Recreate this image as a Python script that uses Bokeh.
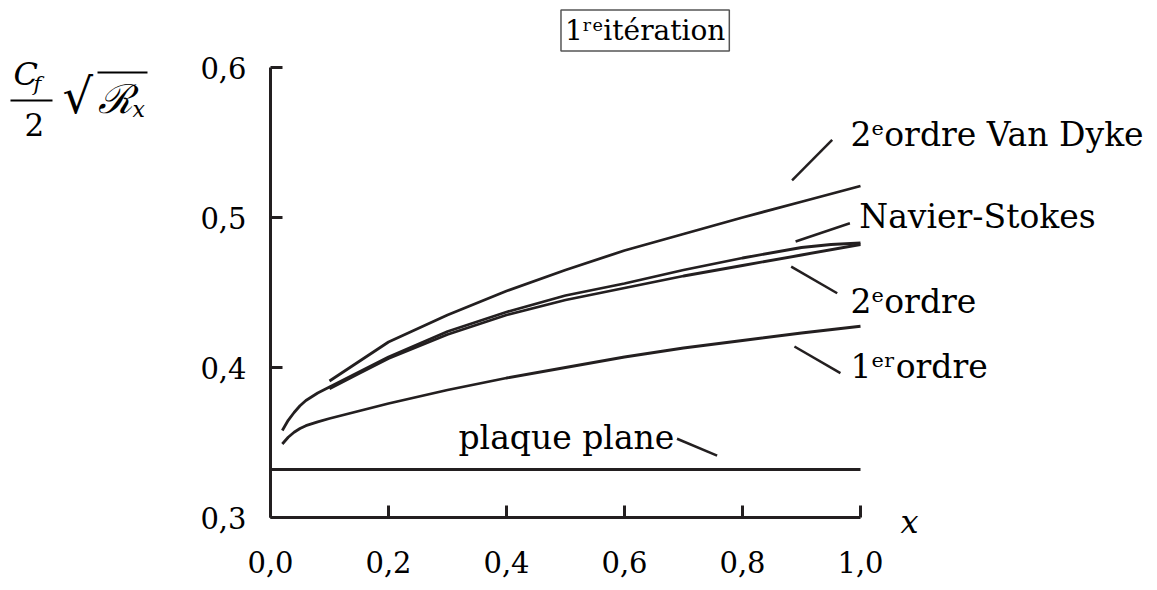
from bokeh.plotting import figure
from bokeh.models import (Range1d, FixedTicker, CustomJSTickFormatter, Label, Arrow)
from bokeh.embed import file_html
from bokeh.resources import INLINE

# ---------------- data ----------------
x_plaque = [0.0, 1.0]
y_plaque = [0.332, 0.332]

x_ordre1 = [0.02, 0.03, 0.04, 0.05, 0.06, 0.08, 0.1, 0.15, 0.2, 0.3, 0.4, 0.5, 0.6, 0.7, 0.8, 0.9, 1.0]
y_ordre1 = [0.349, 0.3535, 0.3568, 0.3593, 0.3612, 0.3638, 0.366, 0.371, 0.376, 0.385, 0.393, 0.400,
            0.407, 0.413, 0.418, 0.423, 0.4275]

x_ns = [0.02, 0.03, 0.04, 0.05, 0.06, 0.08, 0.1, 0.15, 0.2, 0.3, 0.4, 0.5, 0.6, 0.7, 0.8, 0.9, 0.95, 1.0]
y_ns = [0.358, 0.3648, 0.370, 0.3745, 0.378, 0.383, 0.387, 0.397, 0.407, 0.424, 0.437, 0.448,
        0.456, 0.465, 0.473, 0.480, 0.482, 0.483]

x_ordre2 = [0.1, 0.15, 0.2, 0.3, 0.4, 0.5, 0.6, 0.7, 0.8, 0.9, 1.0]
y_ordre2 = [0.3858, 0.396, 0.406, 0.422, 0.435, 0.445, 0.453, 0.461, 0.468, 0.475, 0.482]

x_vd = [0.1, 0.2, 0.3, 0.4, 0.5, 0.6, 0.7, 0.8, 0.9, 1.0]
y_vd = [0.391, 0.417, 0.435, 0.451, 0.465, 0.478, 0.489, 0.500, 0.5105, 0.521]

x_ticks = [0.0, 0.2, 0.4, 0.6, 0.8, 1.0]
y_ticks = [0.3, 0.4, 0.5, 0.6]

title_text = "1ʳᵉitération"
labels = ["2ᵉordre Van Dyke", "Navier-Stokes", "2ᵉordre", "1ᵉʳordre", "plaque plane"]

# annotation placement (data coordinates): text anchor (left, middle) and leader line
label_pos = [(0.983, 0.5553), (0.998, 0.5010), (0.983, 0.4443), (0.983, 0.4010), (0.3186, 0.3533)]
leaders = [((0.884, 0.5247), (0.952, 0.5518)),
           ((0.890, 0.4840), (0.982, 0.4962)),
           ((0.8825, 0.4673), (0.9605, 0.4495)),
           ((0.888, 0.4140), (0.966, 0.3962)),
           ((0.689, 0.3525), (0.757, 0.3413))]

INK = "#231f20"
FONT = "DejaVu Serif"

W, H = 1150, 586
# frame covers the whole canvas; axes are pinned inside it
X0_PX, X_SCALE = 270.0, 590.0      # px of x=0, px per unit
Y0_PX, Y_SCALE = 517.0, 1500.0     # px of y=0.3, px per unit
xr = Range1d(-X0_PX / X_SCALE, (W - X0_PX) / X_SCALE)
yr = Range1d(0.3 - (H - Y0_PX) / Y_SCALE, 0.3 + Y0_PX / Y_SCALE)

p = figure(width=W, height=H, output_backend="svg", toolbar_location=None,
           x_range=xr, y_range=yr, min_border=0)
p.outline_line_color = None
p.grid.visible = False
p.background_fill_color = "white"
p.border_fill_color = "white"

fmt = CustomJSTickFormatter(code="return tick.toFixed(1).replace('.', ',');")
for ax, ticks in ((p.xaxis[0], x_ticks), (p.yaxis[0], y_ticks)):
    ax.ticker = FixedTicker(ticks=ticks)
    ax.formatter = fmt
    ax.minor_tick_line_color = None
    ax.major_tick_in = 12
    ax.major_tick_out = 0
    ax.major_tick_line_width = 3
    ax.major_tick_line_color = INK
    ax.axis_line_width = 3
    ax.axis_line_color = INK
    ax.major_label_text_font = FONT
    ax.major_label_text_font_size = "29px"
    ax.major_label_text_color = "black"
p.xaxis[0].fixed_location = 0.3
p.xaxis[0].bounds = (0.0, 1.0)
p.yaxis[0].fixed_location = 0.0
p.yaxis[0].bounds = (0.3, 0.6)
p.xaxis.major_label_standoff = 33
p.yaxis.major_label_standoff = 24

for xs, ys in ((x_plaque, y_plaque), (x_ordre1, y_ordre1), (x_ns, y_ns),
               (x_ordre2, y_ordre2), (x_vd, y_vd)):
    p.line(xs, ys, line_color=INK, line_width=2.8, line_join="round")

# leader lines
for (a, b) in leaders:
    p.add_layout(Arrow(end=None, x_start=a[0], y_start=a[1], x_end=b[0], y_end=b[1],
                       line_color=INK, line_width=2.5))

for txt, (lx, ly) in zip(labels, label_pos):
    p.add_layout(Label(x=lx, y=ly, text=txt, text_font=FONT, text_font_size="33px",
                       text_color="black", text_baseline="middle", text_align="left"))

# title box
p.add_layout(Label(x=0.635, y=0.6247, text=title_text, text_font=FONT, text_font_size="28px",
                   text_color="black", text_baseline="middle", text_align="center",
                   border_line_color="#555555", border_line_width=1.5, padding=4))

# x axis name
p.add_layout(Label(x=1.068, y=0.2973, text="x", text_font=FONT, text_font_style="italic",
                   text_font_size="32px", text_color="black", text_baseline="middle"))

# y axis name: Cf/2 sqrt(Rx)
p.add_layout(Label(x=-0.4356, y=0.596, text="C", text_font=FONT, text_font_style="italic",
                   text_font_size="32px", text_color="black", text_baseline="middle"))
p.add_layout(Label(x=-0.4017, y=0.5893, text="f", text_font=FONT, text_font_style="italic",
                   text_font_size="21px", text_color="black", text_baseline="middle"))
p.add_layout(Arrow(end=None, x_start=-0.4407, y_start=0.578, x_end=-0.3695, y_end=0.578,
                   line_color="black", line_width=2))
p.add_layout(Label(x=-0.4170, y=0.5623, text="2", text_font=FONT,
                   text_font_size="31px", text_color="black", text_baseline="middle"))
p.add_layout(Label(x=-0.3525, y=0.5813, text="√", text_font=FONT,
                   text_font_size="48px", text_color="black", text_baseline="middle"))
p.add_layout(Arrow(end=None, x_start=-0.2932, y_start=0.5967, x_end=-0.2085, y_end=0.5967,
                   line_color="black", line_width=2))
p.add_layout(Label(x=-0.2929, y=0.5793, text="ℛ", text_font=FONT, text_font_style="italic",
                   text_font_size="40px", text_color="black", text_baseline="middle"))
p.add_layout(Label(x=-0.2339, y=0.572, text="x", text_font=FONT, text_font_style="italic",
                   text_font_size="22px", text_color="black", text_baseline="middle"))

open("out.html", "w").write(file_html(p, INLINE))
